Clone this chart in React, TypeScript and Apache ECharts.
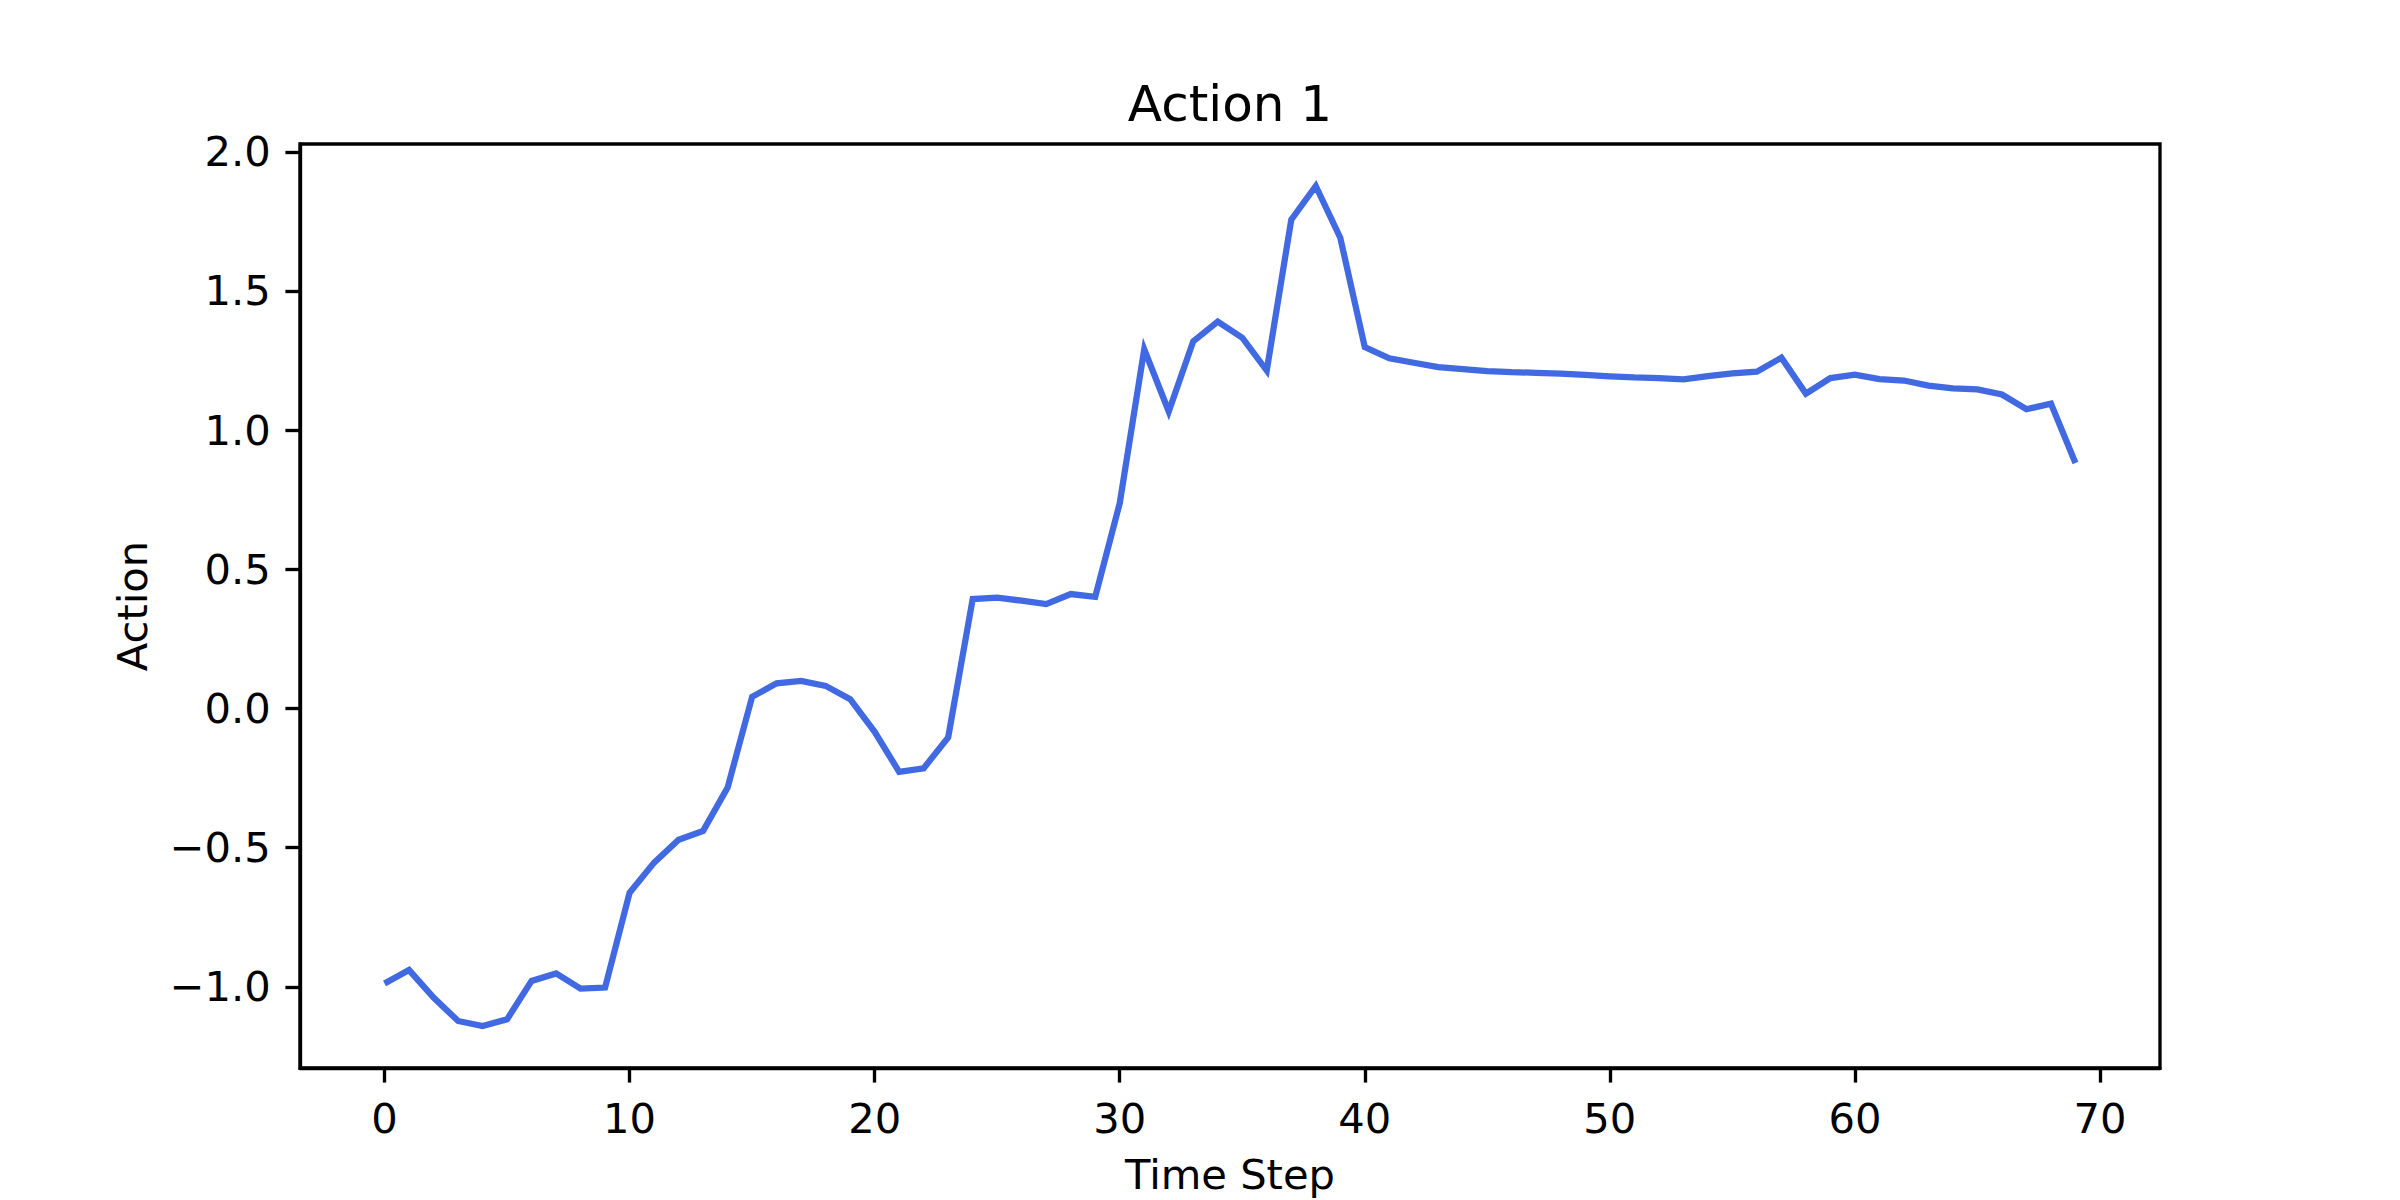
import React, { useEffect, useRef } from "react";
import * as echarts from "echarts";

const timeSteps = [
  0, 1, 2, 3, 4, 5, 6, 7, 8, 9, 10, 11, 12, 13, 14, 15, 16, 17, 18, 19, 20, 21, 22, 23, 24, 25, 26, 27, 28, 29,
  30, 31, 32, 33, 34, 35, 36, 37, 38, 39, 40, 41, 42, 43, 44, 45, 46, 47, 48, 49, 50, 51, 52, 53, 54, 55, 56, 57,
  58, 59, 60, 61, 62, 63, 64, 65, 66, 67, 68, 69,
];

const actionValues = [
  -0.988, -0.94, -1.039, -1.123, -1.141, -1.117, -0.979, -0.952, -1.007, -1.003,
  -0.662, -0.554, -0.472, -0.44, -0.284, 0.042, 0.09, 0.099, 0.081, 0.033,
  -0.084, -0.228, -0.215, -0.104, 0.393, 0.398, 0.387, 0.375, 0.411, 0.401,
  0.737, 1.29, 1.067, 1.319, 1.39, 1.332, 1.214, 1.756, 1.877, 1.691,
  1.298, 1.258, 1.242, 1.226, 1.219, 1.212, 1.208, 1.206, 1.203, 1.198,
  1.193, 1.189, 1.187, 1.182, 1.194, 1.204, 1.21, 1.26, 1.131, 1.187,
  1.199, 1.183, 1.178, 1.16, 1.15, 1.146, 1.128, 1.075, 1.095, 0.882,
];

const xTicks = [0, 10, 20, 30, 40, 50, 60, 70];
const yTicks = [-1.0, -0.5, 0.0, 0.5, 1.0, 1.5, 2.0];

const titleText = "Action 1";
const xLabel = "Time Step";
const yLabel = "Action";

const FONT = "DejaVu Sans";
const PT = 300 / 72;

export default function App() {
  const ref = useRef<HTMLDivElement>(null);

  useEffect(() => {
    if (!ref.current) return;
    const chart = echarts.init(ref.current, null, { renderer: "svg" });

    const xMinD = Math.min(...timeSteps);
    const xMaxD = Math.max(...timeSteps);
    const xr = xMaxD - xMinD;
    const yMinD = Math.min(...actionValues);
    const yMaxD = Math.max(...actionValues);
    const yr = yMaxD - yMinD;

    const gridLeft = 300;
    const gridTop = 144;
    const gridW = 1860;
    const gridH = 924;

    const fmt = (v: number) => v.toFixed(1).replace("-", "\u2212");

    chart.setOption({
      animation: false,
      backgroundColor: "#ffffff",
      grid: {
        left: gridLeft,
        top: gridTop,
        width: gridW,
        height: gridH,
        show: true,
        borderColor: "#000000",
        borderWidth: 0.8 * PT,
        backgroundColor: "transparent",
      },
      xAxis: {
        type: "value",
        min: xMinD - 0.05 * xr,
        max: xMaxD + 0.05 * xr,
        axisLine: { show: true, onZero: false, lineStyle: { color: "#000", width: 0.8 * PT } },
        axisTick: {
          show: true,
          length: 3.5 * PT,
          customValues: xTicks,
          lineStyle: { color: "#000", width: 0.8 * PT },
        },
        axisLabel: {
          show: true,
          customValues: xTicks,
          margin: 7 * PT,
          fontFamily: FONT,
          fontSize: 10 * PT,
          color: "#000",
          formatter: (v: number) => String(v),
        },
        splitLine: { show: false },
      },
      yAxis: {
        type: "value",
        min: yMinD - 0.05 * yr,
        max: yMaxD + 0.05 * yr,
        axisLine: { show: true, onZero: false, lineStyle: { color: "#000", width: 0.8 * PT } },
        axisTick: {
          show: true,
          length: 3.5 * PT,
          customValues: yTicks,
          lineStyle: { color: "#000", width: 0.8 * PT },
        },
        axisLabel: {
          show: true,
          customValues: yTicks,
          margin: 7 * PT,
          fontFamily: FONT,
          fontSize: 10 * PT,
          color: "#000",
          formatter: (v: number) => fmt(v),
        },
        splitLine: { show: false },
      },
      graphic: [
        {
          type: "text",
          x: gridLeft + gridW / 2,
          y: 104,
          style: {
            text: titleText,
            fontFamily: FONT,
            fontSize: 12 * PT,
            fill: "#000",
            textAlign: "center",
            textVerticalAlign: "middle",
          },
        },
        {
          type: "text",
          x: gridLeft + gridW / 2,
          y: 1174,
          style: {
            text: xLabel,
            fontFamily: FONT,
            fontSize: 10 * PT,
            fill: "#000",
            textAlign: "center",
            textVerticalAlign: "middle",
          },
        },
        {
          type: "text",
          x: 132,
          y: gridTop + gridH / 2,
          rotation: Math.PI / 2,
          style: {
            text: yLabel,
            fontFamily: FONT,
            fontSize: 10 * PT,
            fill: "#000",
            textAlign: "center",
            textVerticalAlign: "middle",
          },
        },
      ],
      series: [
        {
          type: "line",
          data: timeSteps.map((t, i) => [t, actionValues[i]]),
          showSymbol: false,
          symbol: "none",
          lineStyle: { color: "#4169E1", width: 1.5 * PT, cap: "butt", join: "miter" },
          itemStyle: { color: "#4169E1" },
        },
      ],
    });

    return () => chart.dispose();
  }, []);

  return (
    <div
      ref={ref}
      style={{ position: "fixed", left: 0, top: 0, width: 2400, height: 1200, background: "#fff" }}
    />
  );
}
